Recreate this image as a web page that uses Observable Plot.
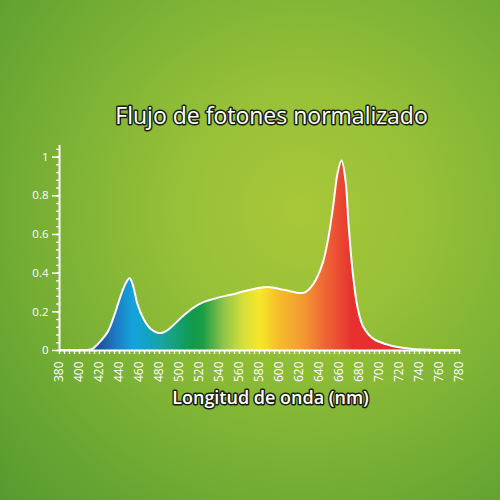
<!DOCTYPE html>
<html>
<head>
<meta charset="utf-8">
<script src="https://cdn.jsdelivr.net/npm/d3@7"></script>
<script src="https://cdn.jsdelivr.net/npm/@observablehq/plot@0.6"></script>
<style>
  html, body { margin: 0; padding: 0; }
  body {
    width: 500px; height: 500px; overflow: hidden;
    background: radial-gradient(circle at 60% 42%, #a9c739 0%, #98c138 28%, #7cb235 58%, #63a331 85%, #57992f 100%);
  }
  #chart svg { background: transparent; display: block; }
</style>
</head>
<body>
<div id="chart"></div>
<script>
const title = "Flujo de fotones normalizado";
const xLabel = "Longitud de onda (nm)";

const wavelength = [380, 390, 400, 408, 413, 420, 428, 434, 441, 446, 450, 453, 458, 464, 471, 478, 483, 488, 494, 504, 514, 524, 537, 551, 571, 588, 604, 621, 626, 634, 643, 649, 654, 658, 662, 666, 669, 673, 678, 684, 694, 711, 731, 758, 780];
const flux = [0.002, 0.002, 0.002, 0.003, 0.009, 0.043, 0.095, 0.17, 0.28, 0.345, 0.373, 0.345, 0.24, 0.164, 0.112, 0.092, 0.092, 0.105, 0.132, 0.181, 0.222, 0.25, 0.271, 0.288, 0.314, 0.328, 0.314, 0.297, 0.302, 0.345, 0.449, 0.587, 0.76, 0.915, 0.982, 0.88, 0.656, 0.415, 0.224, 0.12, 0.06, 0.026, 0.009, 0.002, 0.002];

const spectrumNm = [380, 420, 438, 454, 470, 484, 500, 514, 524, 544, 564, 581, 598, 624, 644, 674, 780];
const spectrumColor = ["#1a4696", "#1d4f9c", "#1d7fc5", "#14a3dc", "#12a4c0", "#1aa39a", "#14a070", "#11994a", "#1d9d48", "#8cc44a", "#d5df3a", "#f6e82a", "#f6c02c", "#f29a30", "#ef6a35", "#e8302f", "#e2262d"];

const yMinorTicks = d3.range(0, 27).map(i => +(i * 0.04).toFixed(2));
const yMajorTicks = [0, 0.2, 0.4, 0.6, 0.8, 1];
const xMinorTicks = d3.range(380, 781, 5);
const xMajorTicks = d3.range(380, 781, 20);

const data = wavelength.map((w, i) => ({w, v: flux[i]}));

function gradientDefs() {
  const ns = "http://www.w3.org/2000/svg";
  const defs = document.createElementNS(ns, "defs");
  const lg = document.createElementNS(ns, "linearGradient");
  lg.setAttribute("id", "spec");
  lg.setAttribute("x1", "0"); lg.setAttribute("x2", "1");
  lg.setAttribute("y1", "0"); lg.setAttribute("y2", "0");
  spectrumNm.forEach((nm, i) => {
    const s = document.createElementNS(ns, "stop");
    s.setAttribute("offset", ((nm - 380) / 400).toFixed(4));
    s.setAttribute("stop-color", spectrumColor[i]);
    lg.appendChild(s);
  });
  defs.appendChild(lg);
  return defs;
}

const font = "'Open Sans', 'DejaVu Sans', sans-serif";

const chart = Plot.plot({
  width: 500,
  height: 500,
  marginLeft: 59,
  marginRight: 41,
  marginTop: 145,
  marginBottom: 150,
  style: {background: "transparent", color: "white", fontFamily: font, fontSize: "11.5px"},
  x: {domain: [380, 780]},
  y: {domain: [0, 1.06]},
  marks: [
    gradientDefs,
    Plot.areaY(data, {x: "w", y: "v", fill: "url(#spec)", curve: "catmull-rom"}),
    Plot.lineY(data, {x: "w", y: "v", stroke: "white", strokeWidth: 2, curve: "catmull-rom"}),
    Plot.axisY({ticks: yMinorTicks, tickSize: 3, tickFormat: () => "", stroke: "white", strokeWidth: 1.3, label: null}),
    Plot.axisY({ticks: yMajorTicks, tickSize: 7, tickPadding: 4, tickFormat: d => String(d), stroke: "white", strokeWidth: 1.5, fill: "white", label: null}),
    Plot.axisX({ticks: xMinorTicks, tickSize: 4, tickFormat: () => "", stroke: "white", strokeWidth: 1.3, label: null}),
    Plot.axisX({ticks: xMajorTicks, tickSize: 4, tickPadding: 7, tickRotate: -90, stroke: "white", strokeWidth: 1.3, fill: "white", label: null, fontSize: 12}),
    Plot.ruleY([0], {stroke: "white", strokeWidth: 2}),
    Plot.ruleX([380], {stroke: "white", strokeWidth: 2}),
    Plot.text([title], {frameAnchor: "top", dx: 12, dy: -38, fill: "white", stroke: "#18200f", strokeWidth: 3, fontSize: 23, fontWeight: 500, text: d => d}),
    Plot.text([xLabel], {frameAnchor: "bottom", dx: 11, dy: 53, fill: "white", stroke: "#18200f", strokeWidth: 3, fontSize: 18, fontWeight: 600, text: d => d})
  ]
});
document.getElementById("chart").appendChild(chart);
</script>
</body>
</html>
